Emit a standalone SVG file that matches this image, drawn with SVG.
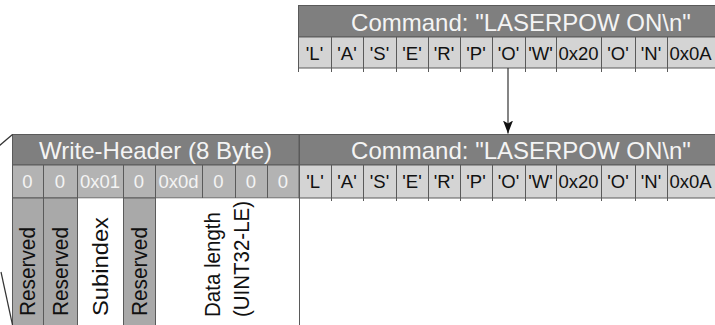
<svg xmlns="http://www.w3.org/2000/svg" width="715" height="325" viewBox="0 0 715 325">
  <defs>
    <style>
      .hdr { fill: #7f7f7f; stroke: #5a5a5a; stroke-width: 1; }
      .val { fill: #b3b3b3; stroke: #5a5a5a; stroke-width: 1; }
      .chr { fill: #d4d4d4; stroke: #5a5a5a; stroke-width: 1; }
      .rsv { fill: #a9a9a9; stroke: #5a5a5a; stroke-width: 1; }
      .wht { fill: #ffffff; stroke: none; }
      .sep { stroke: #5a5a5a; stroke-width: 1; fill: none; }
      .ht { font-family: "Liberation Sans", Arial, sans-serif; font-size: 24px; fill: #f4f4f4; text-anchor: middle; }
      .ct { font-family: "Liberation Sans", Arial, sans-serif; font-size: 18.5px; fill: #111; text-anchor: middle; }
      .vt { font-family: "Liberation Sans", Arial, sans-serif; font-size: 18.5px; fill: #f4f4f4; text-anchor: middle; }
      .lt { font-family: "Liberation Sans", Arial, sans-serif; font-size: 22.5px; fill: #111; }
      .ln { stroke: #333333; stroke-width: 1.2; fill: none; }
    </style>
    <marker id="arrow" markerWidth="13" markerHeight="10" refX="13" refY="5" orient="auto" markerUnits="userSpaceOnUse" viewBox="0 0 13 10">
      <path d="M0,0 L13,5 L0,10 L3,5 Z" fill="#111"/>
    </marker>
  </defs>

  <!-- upper command string -->
  <g id="command-top">
    <rect class="hdr" x="298.5" y="5.5" width="450" height="31.5"/>
    <text class="ht" x="521" y="31">Command: "LASERPOW ON\n"</text>
    <rect class="chr" x="298.5" y="37" width="450" height="31"/>
    <path class="sep" d="M331.5,37V72 M363.5,37V72 M396.5,37V72 M428.5,37V72 M460.5,37V72 M492.5,37V72 M525.5,37V72 M556.5,37V72 M601.5,37V72 M635.5,37V72 M667.5,37V72 M298.5,68V72"/>
    <text class="ct" x="314.5" y="60">'L'</text>
    <text class="ct" x="347" y="60">'A'</text>
    <text class="ct" x="379.5" y="60">'S'</text>
    <text class="ct" x="412" y="60">'E'</text>
    <text class="ct" x="444" y="60">'R'</text>
    <text class="ct" x="476" y="60">'P'</text>
    <text class="ct" x="508.5" y="60">'O'</text>
    <text class="ct" x="540.5" y="60">'W'</text>
    <text class="ct" x="578.5" y="60">0x20</text>
    <text class="ct" x="618" y="60">'O'</text>
    <text class="ct" x="651" y="60">'N'</text>
    <text class="ct" x="690.5" y="60">0x0A</text>
  </g>

  <!-- write header, 8 bytes -->
  <g id="write-header">
    <rect class="hdr" x="12.5" y="134.5" width="286.5" height="30.5"/>
    <text class="ht" x="155.5" y="159">Write-Header (8 Byte)</text>
    <rect class="val" x="12.5" y="165" width="286.5" height="33"/>
    <path class="sep" d="M43.5,165V198 M77.5,165V198 M123.5,165V198 M155.5,165V198 M202.5,165V198 M235.5,165V198 M267.5,165V198"/>
    <text class="vt" x="27.5" y="188">0</text>
    <text class="vt" x="60" y="188">0</text>
    <text class="vt" x="100" y="188">0x01</text>
    <text class="vt" x="139" y="188">0</text>
    <text class="vt" x="178.5" y="188">0x0d</text>
    <text class="vt" x="218.5" y="188">0</text>
    <text class="vt" x="251" y="188">0</text>
    <text class="vt" x="283" y="188">0</text>
  </g>

  <!-- field descriptions below the header bytes -->
  <g id="field-labels">
    <rect class="rsv" x="12.5" y="198" width="31" height="130"/>
    <rect class="rsv" x="43.5" y="198" width="34" height="130"/>
    <rect class="wht" x="78" y="198.5" width="45" height="130"/>
    <rect class="rsv" x="123.5" y="198" width="32" height="130"/>
    <rect class="wht" x="156" y="198.5" width="142.5" height="130"/>
    <path class="sep" d="M299.5,198V325"/>
    <text class="lt" transform="translate(35,316) rotate(-90)" textLength="89" lengthAdjust="spacingAndGlyphs">Reserved</text>
    <text class="lt" transform="translate(68,316) rotate(-90)" textLength="89" lengthAdjust="spacingAndGlyphs">Reserved</text>
    <text class="lt" transform="translate(107.5,316) rotate(-90)" textLength="99" lengthAdjust="spacingAndGlyphs">Subindex</text>
    <text class="lt" transform="translate(147,316) rotate(-90)" textLength="89" lengthAdjust="spacingAndGlyphs">Reserved</text>
    <text class="lt" transform="translate(220,317) rotate(-90)" textLength="105" lengthAdjust="spacingAndGlyphs">Data length</text>
    <text class="lt" transform="translate(249,317) rotate(-90)" textLength="116" lengthAdjust="spacingAndGlyphs">(UINT32-LE)</text>
  </g>

  <!-- lower command string, following the header -->
  <g id="command-bottom">
    <rect class="hdr" x="299.5" y="134.5" width="450" height="30.5"/>
    <text class="ht" x="521" y="159">Command: "LASERPOW ON\n"</text>
    <rect class="chr" x="299.5" y="165" width="450" height="33"/>
    <path class="sep" d="M331.5,165V201 M363.5,165V201 M396.5,165V201 M428.5,165V201 M460.5,165V201 M492.5,165V201 M525.5,165V201 M556.5,165V201 M601.5,165V201 M635.5,165V201 M667.5,165V201"/>
    <text class="ct" x="315" y="188">'L'</text>
    <text class="ct" x="347" y="188">'A'</text>
    <text class="ct" x="379.5" y="188">'S'</text>
    <text class="ct" x="412" y="188">'E'</text>
    <text class="ct" x="444" y="188">'R'</text>
    <text class="ct" x="476" y="188">'P'</text>
    <text class="ct" x="508.5" y="188">'O'</text>
    <text class="ct" x="540.5" y="188">'W'</text>
    <text class="ct" x="578.5" y="188">0x20</text>
    <text class="ct" x="618" y="188">'O'</text>
    <text class="ct" x="651" y="188">'N'</text>
    <text class="ct" x="690.5" y="188">0x0A</text>
  </g>

  <g id="connectors">
    <line class="ln" x1="508" y1="68" x2="508" y2="133.5" marker-end="url(#arrow)"/>
    <line class="ln" x1="12.5" y1="134.5" x2="-1" y2="146"/>
    <line class="ln" x1="12.5" y1="325" x2="1" y2="272"/>
  </g>
</svg>
